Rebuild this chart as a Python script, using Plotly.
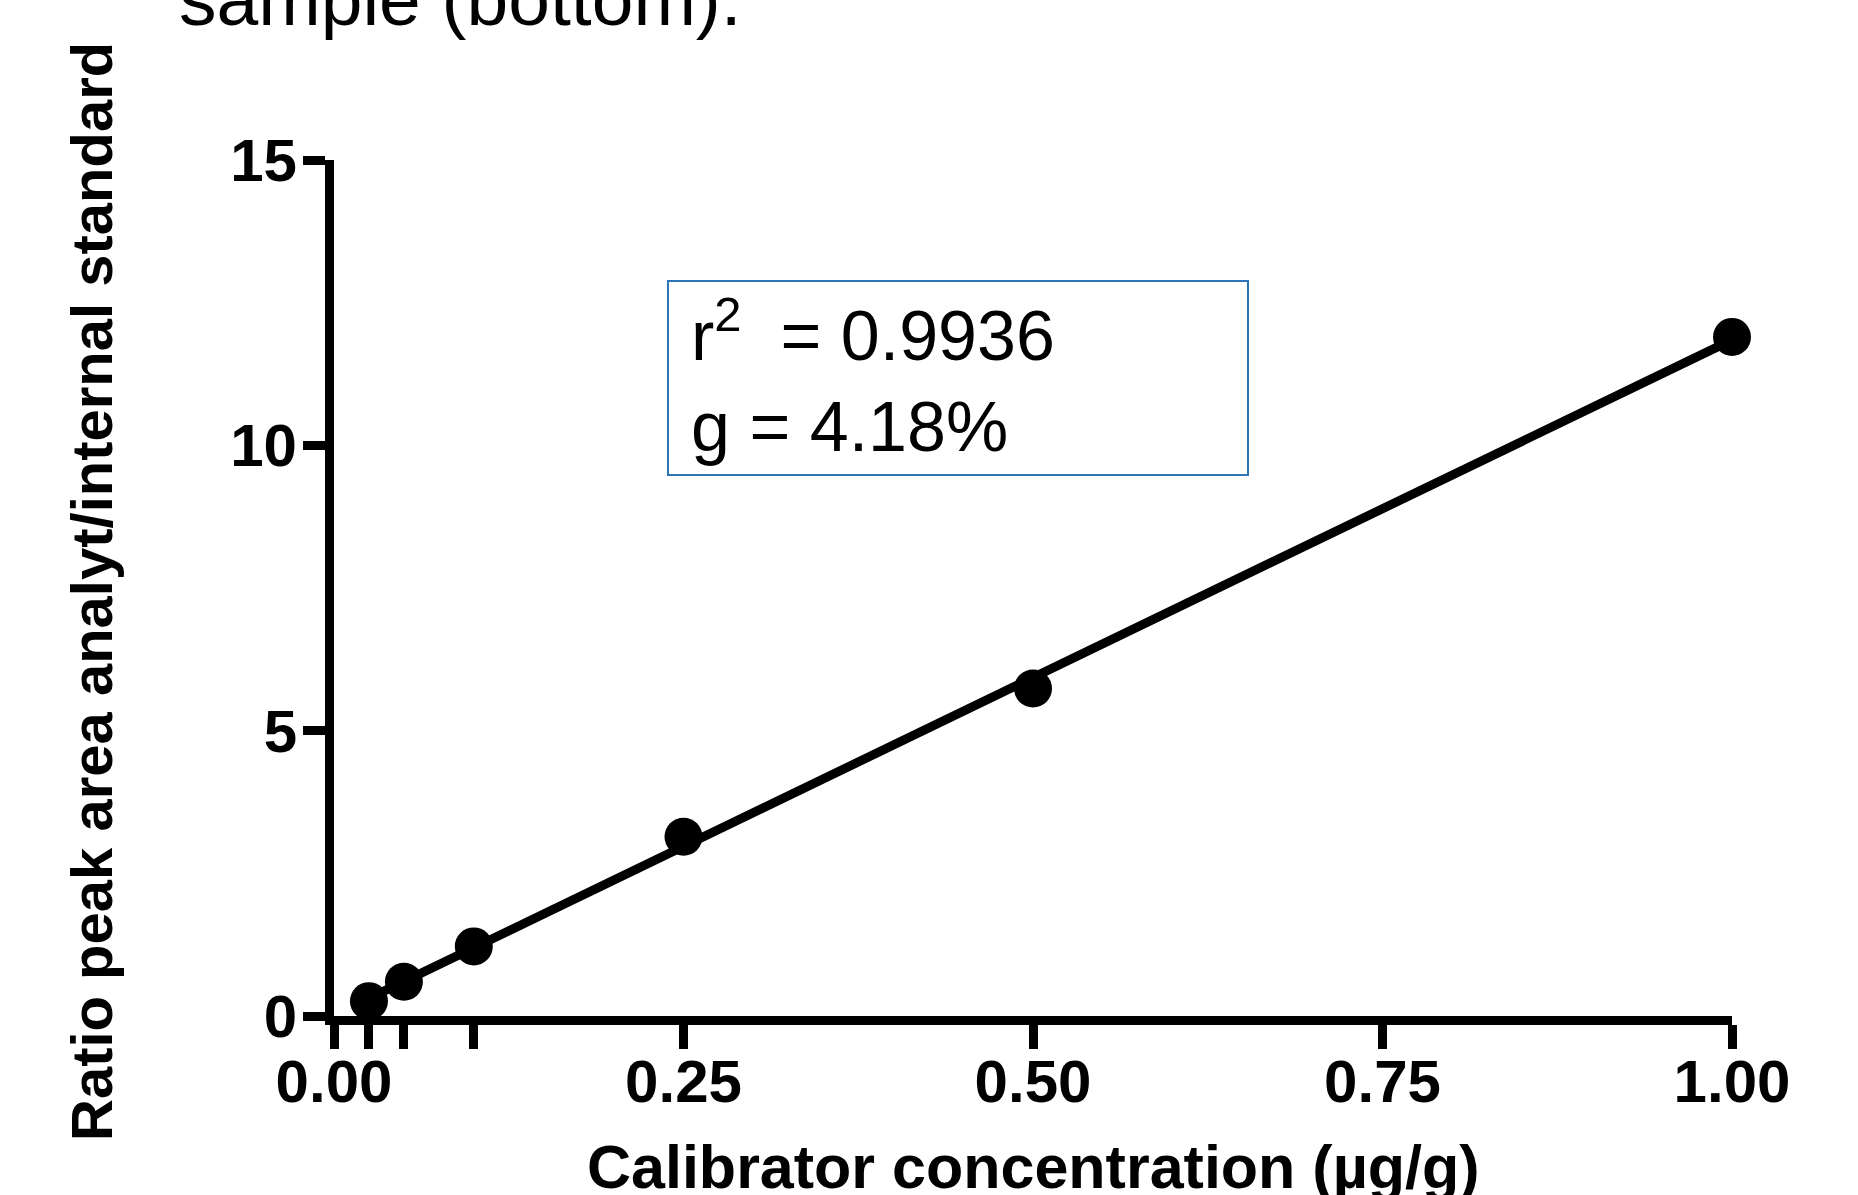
import numpy as np
import plotly.graph_objects as go

# ---- data ----
conc = [0.025, 0.05, 0.1, 0.25, 0.5, 1.0]
ratio = [0.26, 0.60, 1.22, 3.14, 5.74, 11.90]

x_tickvals = [0, 0.025, 0.05, 0.1, 0.25, 0.5, 0.75, 1.0]
x_ticktext = ["0.00", "", "", "", "0.25", "0.50", "0.75", "1.00"]
y_tickvals = [0, 5, 10, 15]
y_ticktext = ["0", "5", "10", "15"]

r2_text = "0.9936"
g_text = "4.18%"
top_text = "sample (bottom)."
x_title = "Calibrator concentration (µg/g)"
y_title = "Ratio peak area analyt/internal standard"

# linear fit through the calibrators
slope, intercept = np.polyfit(conc, ratio, 1)
fit_x = [min(conc), max(conc)]
fit_y = [slope * v + intercept for v in fit_x]

W, H = 1858, 1195
L, R, T, B = 334, 126, 160, 179
pw, ph = W - L - R, H - T - B

def px_x(p):
    return (p - L) / pw

def px_y(p):
    return (H - B - p) / ph

FONT = "Liberation Sans, Arial, sans-serif"

fig = go.Figure()
fig.add_trace(go.Scatter(x=fit_x, y=fit_y, mode="lines",
                         line=dict(color="black", width=9),
                         cliponaxis=False, hoverinfo="skip", showlegend=False))
fig.add_trace(go.Scatter(x=conc, y=ratio, mode="markers",
                         marker=dict(color="black", size=38),
                         cliponaxis=False, showlegend=False))

fig.update_layout(
    width=W, height=H,
    margin=dict(l=L, r=R, t=T, b=B, pad=0),
    paper_bgcolor="white", plot_bgcolor="white",
    font=dict(family=FONT, color="black"),
    xaxis=dict(range=[0, 1], showgrid=False, zeroline=False,
               showline=True, linecolor="black", linewidth=9,
               ticks="outside", tickvals=x_tickvals, ticktext=x_ticktext,
               ticklen=24, tickwidth=9, tickcolor="black",
               ticklabelstandoff=-19,
               tickfont=dict(family=FONT, size=60, color="black", weight="bold"),
               fixedrange=True),
    yaxis=dict(range=[0, 15], showgrid=False, zeroline=False,
               showline=True, linecolor="black", linewidth=9,
               ticks="outside", tickvals=y_tickvals, ticktext=y_ticktext,
               ticklen=22, tickwidth=9, tickcolor="black",
               ticklabelstandoff=-6,
               tickfont=dict(family=FONT, size=60, color="black", weight="bold"),
               fixedrange=True),
)

# r2 / g box
fig.add_shape(type="rect", xref="paper", yref="paper",
              x0=px_x(668), x1=px_x(1248), y0=px_y(475), y1=px_y(281),
              line=dict(color="#2E75B6", width=2), fillcolor="rgba(0,0,0,0)")
fig.add_annotation(xref="paper", yref="paper", x=px_x(689), y=px_y(376),
                   xanchor="left", yanchor="middle", align="left", showarrow=False,
                   text=f"r<sup>2</sup>  = {r2_text}<br>g = {g_text}",
                   font=dict(family=FONT, size=70, color="black"))

# axis titles
fig.add_annotation(xref="paper", yref="paper", x=px_x(1033), y=px_y(1167),
                   xanchor="center", yanchor="middle", showarrow=False,
                   text=f"<b>{x_title}</b>",
                   font=dict(family=FONT, size=61, color="black"))
fig.add_annotation(xref="paper", yref="paper", x=px_x(91), y=px_y(592),
                   xanchor="center", yanchor="middle", showarrow=False, textangle=-90,
                   text=f"<b>{y_title}</b>",
                   font=dict(family=FONT, size=58, color="black"))

# cut-off caption at the top
fig.add_annotation(xref="paper", yref="paper", x=px_x(460), y=px_y(43),
                   xanchor="center", yanchor="bottom", showarrow=False,
                   text=top_text,
                   font=dict(family=FONT, size=75, color="black"))

fig.write_html("out.html",
               config={"displayModeBar": False, "staticPlot": True},
               post_script="document.body.style.margin='0px';"
                           "document.body.style.overflow='hidden';")
